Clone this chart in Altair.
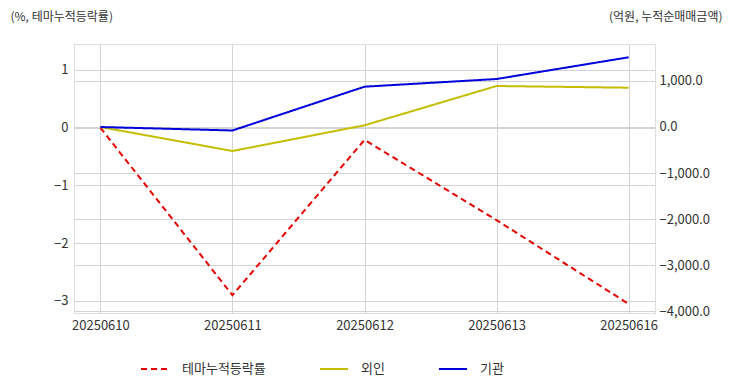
import altair as alt
import pandas as pd

dates = ["20250610", "20250611", "20250612", "20250613", "20250616"]
theme_rate = [0.0, -2.90, -0.21, -1.60, -3.05]
foreign = [0.0, -522.0, 37.0, 891.0, 854.0]
institution = [0.0, -76.0, 876.0, 1043.0, 1515.0]

series_names = ["테마누적등락률", "외인", "기관"]
series_colors = ["#e60000", "#c4bd00", "#0000dd"]
series_dash = [[6, 4], [1, 0], [1, 0]]

left_ticks = [-3, -2, -1, 0, 1]
right_ticks = [-4000, -3000, -2000, -1000, 0, 1000]
left_domain = [-3.208, 1.45]
right_domain = [-4043, 1804]

rows = []
for name, vals in zip(series_names, [theme_rate, foreign, institution]):
    for d, v in zip(dates, vals):
        rows.append({"date": d, "series": name, "value": v})
df = pd.DataFrame(rows)

FONT = "Noto Sans CJK KR"

x_enc = alt.X(
    "date:O",
    sort=dates,
    scale=alt.Scale(type="point", padding=0.2),
    axis=alt.Axis(
        title=None, labelAngle=0, grid=True, ticks=False, domain=False,
        labelPadding=6, labelFontSize=13, labelColor="#333333", labelFont=FONT,
        gridColor="#d4d4d4",
    ),
)

legend_kw = dict(
    title=None, orient="none", direction="horizontal",
    legendX=66, legendY=310, symbolType="stroke", symbolSize=784,
    symbolStrokeWidth=2, labelFontSize=13, labelFont=FONT,
    labelColor="#333333", labelOffset=12, columnPadding=50,
)

color_enc = alt.Color(
    "series:N",
    scale=alt.Scale(domain=series_names, range=series_colors),
    legend=alt.Legend(**legend_kw),
)
dash_enc = alt.StrokeDash(
    "series:N",
    scale=alt.Scale(domain=series_names, range=series_dash),
    legend=alt.Legend(**legend_kw),
)

left = alt.Chart(df).transform_filter(
    alt.datum.series == "테마누적등락률"
).mark_line(strokeWidth=2).encode(
    x=x_enc,
    y=alt.Y(
        "value:Q",
        scale=alt.Scale(domain=left_domain, nice=False, zero=False),
        axis=alt.Axis(
            orient="left", values=left_ticks, format="d", grid=True,
            ticks=False, domain=False, labelPadding=6, labelFontSize=13,
            labelFont=FONT, labelColor="#333333", gridColor="#d4d4d4",
            title="(%, 테마누적등락률)", titleAngle=0, titleAlign="left",
            titleBaseline="middle", titleX=-64, titleY=-28, titleFontSize=12,
            titleFontWeight="normal", titleFont=FONT, titleColor="#333333",
        ),
    ),
    color=color_enc,
    strokeDash=dash_enc,
)

right = alt.Chart(df).transform_filter(
    alt.datum.series != "테마누적등락률"
).mark_line(strokeWidth=2).encode(
    x=x_enc,
    y=alt.Y(
        "value:Q",
        scale=alt.Scale(domain=right_domain, nice=False, zero=False),
        axis=alt.Axis(
            orient="right", values=right_ticks, format=",.1f", grid=True,
            ticks=False, domain=False, labelPadding=4, labelFontSize=13,
            labelFont=FONT, labelColor="#333333", gridColor="#d4d4d4",
            title="(억원, 누적순매매금액)", titleAngle=0, titleAlign="right",
            titleBaseline="middle", titleX=67, titleY=-28, titleFontSize=12,
            titleFontWeight="normal", titleFont=FONT, titleColor="#333333",
        ),
    ),
    color=color_enc,
    strokeDash=dash_enc,
)

chart = alt.layer(left, right).resolve_scale(y="independent").properties(
    width=581,
    height=269,
    autosize=alt.AutoSizeParams(type="none"),
    padding={"left": 66, "top": 36, "right": 69, "bottom": 70},
).configure_view(
    stroke="#cfcfcf", strokeWidth=2
).configure(font=FONT)

chart.save("out.html", embed_options={"renderer": "svg", "actions": False})
